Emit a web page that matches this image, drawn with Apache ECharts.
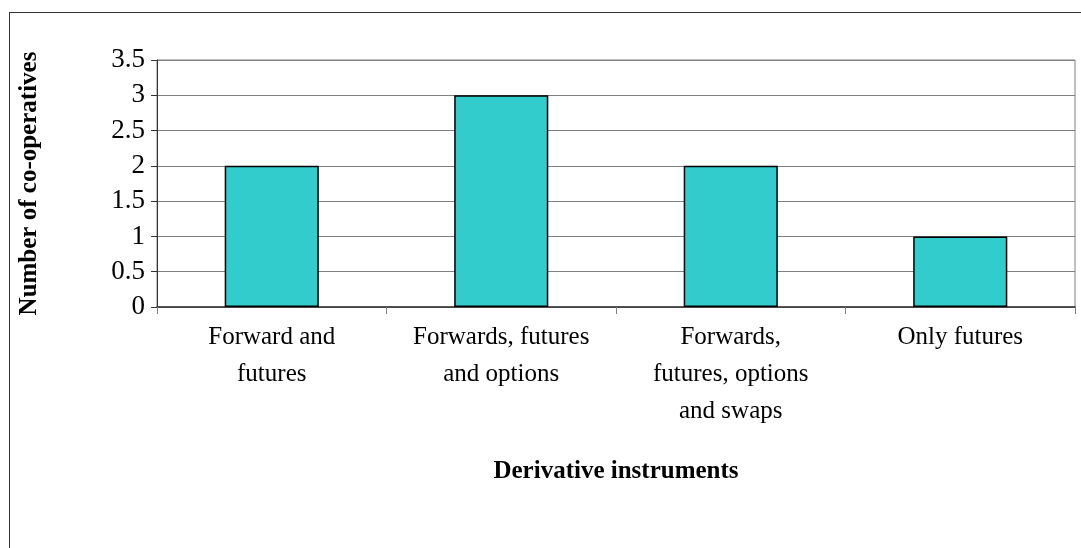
<!DOCTYPE html><html><head><meta charset="utf-8">
<script src="https://cdn.jsdelivr.net/npm/echarts@6/dist/echarts.min.js"></script>
<style>html,body{margin:0;padding:0;background:#fff}#c{width:1081px;height:548px}
#b{position:absolute;left:9px;top:12px;width:1080px;height:540px;border:1px solid #333;pointer-events:none}</style>
</head><body><div id="c"></div><div id="b"></div><script>
const categories=["Forward and\nfutures","Forwards, futures\nand options","Forwards,\nfutures, options\nand swaps","Only futures"];
const values=[2,3,2,1];
const yTicks=[0,0.5,1,1.5,2,2.5,3,3.5];
const font="'Liberation Serif','Times New Roman',serif";
const ch=echarts.init(document.getElementById('c'));
ch.setOption({animation:false,
grid:{left:157,right:6,top:60,bottom:241,show:true,borderColor:'#808080',borderWidth:1},
xAxis:{type:'category',data:categories,name:'Derivative instruments',nameLocation:'middle',nameGap:152,
nameTextStyle:{fontFamily:font,fontSize:25,fontWeight:'bold',color:'#000'},
axisLine:{lineStyle:{color:'#333',width:1.5}},axisTick:{show:true,length:7,lineStyle:{color:'#808080'}},
axisLabel:{fontFamily:font,fontSize:25,color:'#000',lineHeight:37,margin:12}},
yAxis:{type:'value',min:0,max:3.5,interval:0.5,name:'Number of co-operatives',nameLocation:'middle',nameGap:115,
nameTextStyle:{fontFamily:font,fontSize:25,fontWeight:'bold',color:'#000'},
axisLine:{show:true,lineStyle:{color:'#333'}},axisTick:{show:true,length:6,lineStyle:{color:'#333'}},
splitLine:{lineStyle:{color:'#808080'}},
axisLabel:{fontFamily:font,fontSize:27,color:'#000',margin:12,formatter:v=>yTicks.includes(v)?String(v):''}},
series:[{type:'bar',data:values,barWidth:'41%',itemStyle:{color:'#33CCCC',borderColor:'#000',borderWidth:1.5}}]});
</script></body></html>
